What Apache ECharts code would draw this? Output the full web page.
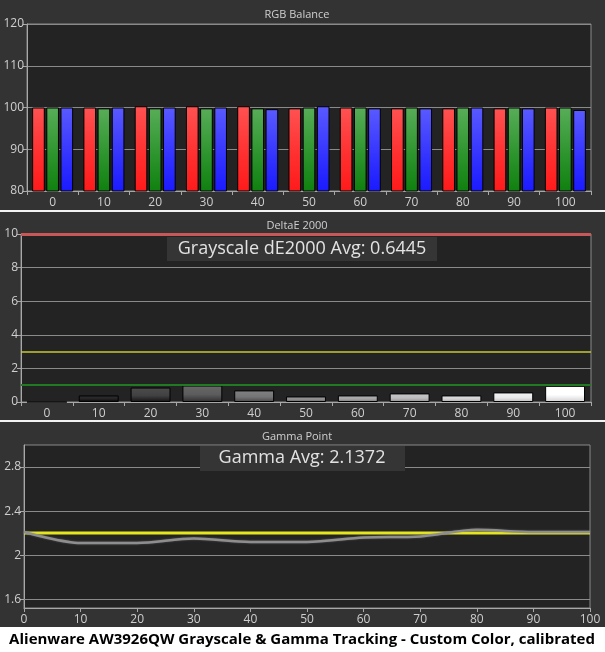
<!DOCTYPE html>
<html>
<head>
<meta charset="utf-8">
<script src="https://cdn.jsdelivr.net/npm/echarts@6/dist/echarts.min.js"></script>
<style>
html,body{margin:0;padding:0;background:#333333;}
#chart{width:605px;height:652px;}
</style>
</head>
<body>
<div id="chart"></div>
<script>
// ---- data ----
const categories = ['0','10','20','30','40','50','60','70','80','90','100'];
const redValues   = [100.0, 100.0, 100.3, 100.3, 100.3,  99.8, 100.0,  99.8,  99.8,  99.8, 100.0];
const greenValues = [100.0,  99.8,  99.8,  99.8,  99.8, 100.0, 100.0, 100.0, 100.0, 100.0, 100.0];
const blueValues  = [100.0, 100.0, 100.0, 100.0,  99.6, 100.3,  99.8,  99.8, 100.0,  99.8,  99.4];
const deltaEValues = [0.0, 0.39, 0.86, 0.98, 0.69, 0.33, 0.39, 0.51, 0.39, 0.57, 0.96];
const deltaERefLines = [10, 3, 1];
const gammaX = [0, 10, 20, 30, 40, 50, 60, 70, 80, 90, 100];
const gammaValues = [2.21, 2.11, 2.11, 2.15, 2.12, 2.12, 2.16, 2.17, 2.23, 2.21, 2.21];
const gammaTarget = [2.2, 2.2, 2.2, 2.2, 2.2, 2.2, 2.2, 2.2, 2.2, 2.2, 2.2];
const gammaTicks = [1.6, 2.0, 2.4, 2.8];
const titles = ['RGB Balance', 'DeltaE 2000', 'Gamma Point'];
const deltaEAvgText = 'Grayscale dE2000 Avg: 0.6445';
const gammaAvgText = 'Gamma Avg: 2.1372';
const mainTitle = 'Alienware AW3926QW Grayscale & Gamma Tracking - Custom Color, calibrated';

// ---- styles ----
const FONT = '"Open Sans", "Noto Sans", sans-serif';
const labelColor = '#cfcfcf';
const axisColor = '#a8a8a8';
const gridColor = '#8a8a8a';
const plotBg = '#232323';

function grad(top, mid, bottom) {
  return {type:'linear', x:0, y:0, x2:0, y2:1,
    colorStops:[{offset:0,color:top},{offset:0.55,color:mid},{offset:1,color:bottom}]};
}
function grayGrad(cat) {
  const v = Number(cat) / 100;
  const lvl = Math.round(255 * Math.pow(v, 0.85));
  const c = x => { x = Math.max(0, Math.min(255, Math.round(x))); return 'rgb(' + x + ',' + x + ',' + x + ')'; };
  return grad(c(lvl + 12), c(lvl), c(lvl - 45));
}

const catAxisCommon = {
  type:'category', data:categories,
  axisLine:{show:true, lineStyle:{color:axisColor, width:1}},
  axisTick:{show:true, length:4, lineStyle:{color:axisColor}},
  axisLabel:{color:labelColor, fontSize:12, fontFamily:FONT, margin:6}
};
const valAxisCommon = {
  type:'value',
  axisLine:{show:true, lineStyle:{color:axisColor}},
  axisTick:{show:true, length:4, lineStyle:{color:axisColor}},
  axisLabel:{color:labelColor, fontSize:12, fontFamily:FONT, margin:3},
  splitLine:{show:true, lineStyle:{color:gridColor, width:1}}
};

const chart = echarts.init(document.getElementById('chart'), null, {renderer:'canvas'});
const gridCommon = {show:true, backgroundColor:plotBg, borderColor:gridColor, borderWidth:1};

const refLineStyles = [
  {color:'#c85858', width:3},
  {color:'#c8c832', width:1.5},
  {color:'#217a21', width:2}
];

const option = {
  backgroundColor:'#333333',
  animation:false,
  grid:[
    Object.assign({left:27, top:24, width:564, height:167}, gridCommon),
    Object.assign({left:21, top:234, width:570, height:168}, gridCommon),
    Object.assign({left:24, top:445, width:566, height:163}, gridCommon)
  ],
  xAxis:[
    Object.assign({gridIndex:0}, catAxisCommon),
    Object.assign({gridIndex:1}, catAxisCommon),
    {
      gridIndex:2, type:'value', min:0, max:100, interval:10,
      axisLine:{show:true, lineStyle:{color:axisColor}},
      axisTick:{show:true, length:4, lineStyle:{color:axisColor}},
      axisLabel:{color:labelColor, fontSize:12, fontFamily:FONT, margin:6},
      splitLine:{show:false}
    }
  ],
  yAxis:[
    Object.assign({gridIndex:0, min:80, max:120, interval:10}, valAxisCommon),
    Object.assign({gridIndex:1, min:0, max:10, interval:2}, valAxisCommon),
    {
      gridIndex:2, type:'value', min:1.52, max:3.0,
      axisLine:{show:true, lineStyle:{color:axisColor}},
      axisTick:{show:true, length:4, lineStyle:{color:axisColor}, customValues:gammaTicks},
      axisLabel:{color:labelColor, fontSize:12, fontFamily:FONT, margin:3, customValues:gammaTicks,
        formatter: v => String(Math.round(v*10)/10)},
      splitLine:{show:false}
    }
  ],
  series:[
    {type:'bar', name:'R', xAxisIndex:0, yAxisIndex:0, data:redValues,
      barGap:'12%', barCategoryGap:'20%',
      itemStyle:{color:grad('#ff5252','#ff3030','#ff1a1a'), borderColor:'#000', borderWidth:1}},
    {type:'bar', name:'G', xAxisIndex:0, yAxisIndex:0, data:greenValues,
      barGap:'12%', barCategoryGap:'20%',
      itemStyle:{color:grad('#58ad58','#2e952e','#0f800f'), borderColor:'#000', borderWidth:1}},
    {type:'bar', name:'B', xAxisIndex:0, yAxisIndex:0, data:blueValues,
      barGap:'12%', barCategoryGap:'20%',
      itemStyle:{color:grad('#5a5aff','#3535ff','#1a1aff'), borderColor:'#000', borderWidth:1}},
    {type:'bar', name:'dE', xAxisIndex:1, yAxisIndex:1,
      data:deltaEValues.map((v,i)=>({value:v, itemStyle:{color:grayGrad(categories[i])}})),
      barCategoryGap:'23%',
      itemStyle:{borderColor:'#000', borderWidth:1},
      markLine:{silent:true, symbol:'none', label:{show:false},
        data:deltaERefLines.map((v,i)=>({yAxis:v, lineStyle:Object.assign({type:'solid'}, refLineStyles[i])}))}
    },
    {type:'line', name:'target', xAxisIndex:2, yAxisIndex:2, z:2,
      data:gammaX.map((x,i)=>[x, gammaTarget[i]]),
      symbol:'none', lineStyle:{color:'#e6e61e', width:3},
      markLine:{silent:true, symbol:'none', label:{show:false},
        data:gammaTicks.map(v=>({yAxis:v, lineStyle:{type:'solid', color:gridColor, width:1}}))}
    },
    {type:'line', name:'gamma', xAxisIndex:2, yAxisIndex:2, z:3,
      data:gammaX.map((x,i)=>[x, gammaValues[i]]),
      smooth:0.3, symbol:'none',
      lineStyle:{color:'#8e8e8e', width:2.5, shadowBlur:2, shadowColor:'rgba(150,150,150,0.5)'}}
  ],
  graphic:[
    {type:'rect', z:100, shape:{x:0, y:210, width:605, height:2}, style:{fill:'#f2f2f2'}},
    {type:'rect', z:100, shape:{x:0, y:420, width:605, height:2}, style:{fill:'#f2f2f2'}},
    {type:'rect', z:100, shape:{x:0, y:627, width:605, height:25}, style:{fill:'#ffffff'}},
    {type:'text', z:100, x:297, y:15, style:{text:titles[0], fill:labelColor, font:'11px ' + FONT, align:'center', verticalAlign:'middle', textAlign:'center', textVerticalAlign:'middle'}},
    {type:'text', z:100, x:297, y:226, style:{text:titles[1], fill:labelColor, font:'11px ' + FONT, align:'center', verticalAlign:'middle', textAlign:'center', textVerticalAlign:'middle'}},
    {type:'text', z:100, x:297, y:437, style:{text:titles[2], fill:labelColor, font:'11px ' + FONT, align:'center', verticalAlign:'middle', textAlign:'center', textVerticalAlign:'middle'}},
    {type:'rect', z:100, shape:{x:167, y:237, width:270, height:24}, style:{fill:'#353535'}},
    {type:'text', z:101, x:302, y:249, style:{text:deltaEAvgText, fill:'#e2e2e2', font:'18px ' + FONT, align:'center', verticalAlign:'middle', textAlign:'center', textVerticalAlign:'middle'}},
    {type:'rect', z:100, shape:{x:200, y:446, width:205, height:25}, style:{fill:'#353535'}},
    {type:'text', z:101, x:302, y:458, style:{text:gammaAvgText, fill:'#e2e2e2', font:'18px ' + FONT, align:'center', verticalAlign:'middle', textAlign:'center', textVerticalAlign:'middle'}},
    {type:'text', z:101, x:302, y:640, style:{text:mainTitle, fill:'#000000', font:'bold 15px ' + FONT, align:'center', verticalAlign:'middle', textAlign:'center', textVerticalAlign:'middle'}}
  ]
};
chart.setOption(option);
</script>
</body>
</html>
